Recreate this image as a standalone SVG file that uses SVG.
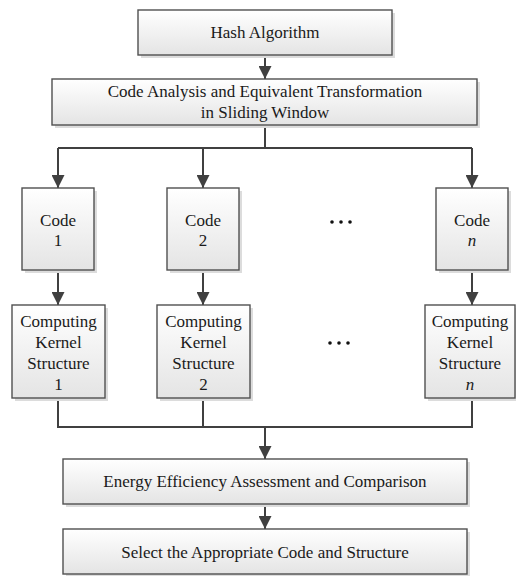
<svg xmlns="http://www.w3.org/2000/svg" width="516" height="576" viewBox="0 0 516 576">
  <defs>
    <linearGradient id="boxFill" x1="0" y1="0" x2="0" y2="1">
      <stop offset="0" stop-color="#ffffff"/>
      <stop offset="1" stop-color="#e4e4e4"/>
    </linearGradient>
    <marker id="arrow" viewBox="0 0 13 13" refX="13" refY="6.5" markerWidth="13" markerHeight="13" markerUnits="userSpaceOnUse" orient="auto">
      <path d="M0,0 L13,6.5 L0,13 Z" fill="#404040"/>
    </marker>
  </defs>
  <style>
    .shadow { fill: #dcdcdc; }
    .box { fill: url(#boxFill); stroke: #505050; stroke-width: 1.4; }
    .label { font-family: "Liberation Serif", "Times New Roman", serif; font-size: 17px; fill: #1a1a1a; text-anchor: middle; }
    .dot { fill: #111111; }
    .wire { fill: none; stroke: #404040; stroke-width: 2; }
    .arrowed { marker-end: url(#arrow); }
  </style>

  <rect width="516" height="576" fill="#ffffff"/>

  <!-- connectors -->
  <g id="connectors">
    <path class="wire arrowed" d="M265,55 V79"/>
    <path class="wire" d="M265,125 V148 M58,148 H472"/>
    <path class="wire arrowed" d="M58,148 V188"/>
    <path class="wire arrowed" d="M203,148 V188"/>
    <path class="wire arrowed" d="M472,148 V188"/>
    <path class="wire arrowed" d="M58,270 V305"/>
    <path class="wire arrowed" d="M203,270 V305"/>
    <path class="wire arrowed" d="M472,270 V305"/>
    <path class="wire" d="M58,398 V427 H472 V398 M203,398 V427"/>
    <path class="wire arrowed" d="M265,427 V459"/>
    <path class="wire arrowed" d="M265,504 V529"/>
  </g>

  <g id="hash">
    <rect class="shadow" x="141" y="13" width="254" height="45"/>
    <rect class="box" x="138" y="10" width="254" height="45"/>
    <text class="label" x="265" y="38">Hash Algorithm</text>
  </g>

  <g id="analysis">
    <rect class="shadow" x="55" y="82" width="425" height="46"/>
    <rect class="box" x="52" y="79" width="425" height="46"/>
    <text class="label" x="265" y="97">Code Analysis and Equivalent Transformation</text>
    <text class="label" x="265" y="118">in Sliding Window</text>
  </g>

  <g id="code1">
    <rect class="shadow" x="25" y="191" width="72" height="82"/>
    <rect class="box" x="22" y="188" width="72" height="82"/>
    <text class="label" x="58" y="226">Code</text>
    <text class="label" x="58" y="246">1</text>
  </g>

  <g id="code2">
    <rect class="shadow" x="170" y="191" width="72" height="82"/>
    <rect class="box" x="167" y="188" width="72" height="82"/>
    <text class="label" x="203" y="226">Code</text>
    <text class="label" x="203" y="246">2</text>
  </g>

  <g id="codeN">
    <rect class="shadow" x="439" y="191" width="72" height="82"/>
    <rect class="box" x="436" y="188" width="72" height="82"/>
    <text class="label" x="472" y="226">Code</text>
    <text class="label" x="472" y="246" font-style="italic">n</text>
  </g>

  <!-- ellipsis between code columns -->
  <g id="ellipsis-code">
    <circle class="dot" cx="332" cy="222" r="1.8"/>
    <circle class="dot" cx="341" cy="222" r="1.8"/>
    <circle class="dot" cx="350" cy="222" r="1.8"/>
  </g>

  <g id="kernel1">
    <rect class="shadow" x="15" y="308" width="93" height="93"/>
    <rect class="box" x="12" y="305" width="93" height="93"/>
    <text class="label" x="58.5" y="327">Computing</text>
    <text class="label" x="58.5" y="348">Kernel</text>
    <text class="label" x="58.5" y="369">Structure</text>
    <text class="label" x="58.5" y="390">1</text>
  </g>

  <g id="kernel2">
    <rect class="shadow" x="160" y="308" width="93" height="93"/>
    <rect class="box" x="157" y="305" width="93" height="93"/>
    <text class="label" x="203.5" y="327">Computing</text>
    <text class="label" x="203.5" y="348">Kernel</text>
    <text class="label" x="203.5" y="369">Structure</text>
    <text class="label" x="203.5" y="390">2</text>
  </g>

  <g id="kernelN">
    <rect class="shadow" x="428" y="308" width="90" height="93"/>
    <rect class="box" x="425" y="305" width="90" height="93"/>
    <text class="label" x="470" y="327">Computing</text>
    <text class="label" x="470" y="348">Kernel</text>
    <text class="label" x="470" y="369">Structure</text>
    <text class="label" x="470" y="390" font-style="italic">n</text>
  </g>

  <!-- ellipsis between kernel columns -->
  <g id="ellipsis-kernel">
    <circle class="dot" cx="330" cy="343" r="1.8"/>
    <circle class="dot" cx="339" cy="343" r="1.8"/>
    <circle class="dot" cx="348" cy="343" r="1.8"/>
  </g>

  <g id="assessment">
    <rect class="shadow" x="66" y="462" width="404" height="45"/>
    <rect class="box" x="63" y="459" width="404" height="45"/>
    <text class="label" x="265" y="487">Energy Efficiency Assessment and Comparison</text>
  </g>

  <g id="select">
    <rect class="shadow" x="66" y="532" width="404" height="45"/>
    <rect class="box" x="63" y="529" width="404" height="45"/>
    <text class="label" x="265" y="558">Select the Appropriate Code and Structure</text>
  </g>
</svg>
